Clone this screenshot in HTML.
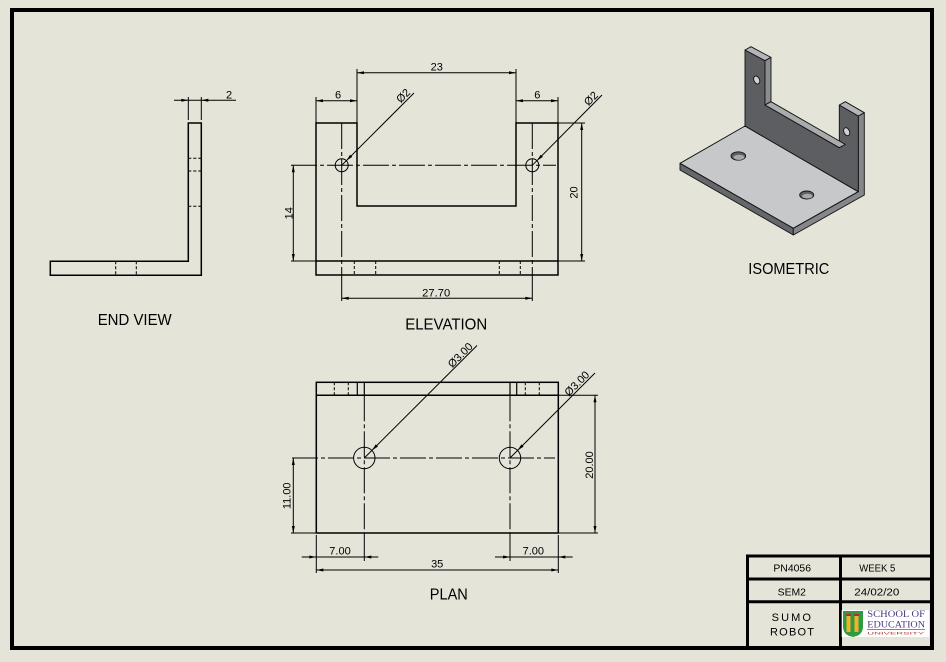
<!DOCTYPE html>
<html>
<head>
<meta charset="utf-8">
<style>
  html,body{margin:0;padding:0;background:#e4e4d9;}
  svg{display:block;}
  text{font-family:"Liberation Sans",sans-serif;fill:#000;}
</style>
</head>
<body>
<svg width="946" height="662" viewBox="0 0 946 662" xmlns="http://www.w3.org/2000/svg">
  <rect x="0" y="0" width="946" height="662" fill="#e4e4d9"/>
  <!-- Sheet border -->
  <rect x="12" y="10" width="920" height="638" fill="none" stroke="#000" stroke-width="4"/>

  <!-- ================= END VIEW ================= -->
  <g fill="none" stroke="#000">
    <path d="M50.3,261.3 H188.3 V123 H201.3 V275.3 H50.3 Z" stroke-width="1.5"/>
    <g stroke-width="1" stroke-dasharray="3 2">
      <line x1="188.3" y1="158.3" x2="201.3" y2="158.3"/>
      <line x1="188.3" y1="171" x2="201.3" y2="171"/>
      <line x1="188.3" y1="206.3" x2="201.3" y2="206.3"/>
      <line x1="115.7" y1="261.3" x2="115.7" y2="275.3"/>
      <line x1="136.3" y1="261.3" x2="136.3" y2="275.3"/>
    </g>
    <g stroke-width="1">
      <line x1="188.3" y1="97" x2="188.3" y2="120"/>
      <line x1="201.3" y1="97" x2="201.3" y2="120"/>
      <line x1="174" y1="100.3" x2="236" y2="100.3"/>
    </g>
  </g>
  <polygon points="188.3,100.3 181.3,98.8 181.3,101.8" fill="#000"/>
  <polygon points="201.3,100.3 208.3,98.8 208.3,101.8" fill="#000"/>
  <text x="229" y="98.5" font-size="11" text-anchor="middle">2</text>
  <text x="134.7" y="325" font-size="16" text-anchor="middle" textLength="74" lengthAdjust="spacingAndGlyphs">END VIEW</text>

  <!-- ================= ELEVATION ================= -->
  <g fill="none" stroke="#000">
    <path d="M316,123 H357 V206 H516 V123 H558 V275 H316 Z" stroke-width="1.5"/>
    <line x1="316" y1="261" x2="558" y2="261" stroke-width="1.5"/>
    <g stroke-width="1" stroke-dasharray="3 2">
      <line x1="354.3" y1="261" x2="354.3" y2="275"/>
      <line x1="375.7" y1="261" x2="375.7" y2="275"/>
      <line x1="499.3" y1="261" x2="499.3" y2="275"/>
      <line x1="520.3" y1="261" x2="520.3" y2="275"/>
    </g>
    <!-- centerlines -->
    <g stroke-width="1" stroke-dasharray="26 3 4 3">
      <line x1="341.7" y1="123" x2="341.7" y2="275"/>
      <line x1="532.3" y1="123" x2="532.3" y2="275"/>
      <line x1="291" y1="165.3" x2="556" y2="165.3"/>
    </g>
    <circle cx="341.7" cy="165.3" r="6.5" stroke-width="1"/>
    <circle cx="532.3" cy="165.3" r="6.5" stroke-width="1"/>
    <!-- dimension lines -->
    <g stroke-width="1">
      <!-- 23 -->
      <line x1="357" y1="69" x2="357" y2="123"/>
      <line x1="516" y1="69" x2="516" y2="123"/>
      <line x1="357" y1="72.7" x2="516" y2="72.7"/>
      <!-- 6 left / right -->
      <line x1="316" y1="97" x2="316" y2="123"/>
      <line x1="558" y1="97" x2="558" y2="123"/>
      <line x1="316" y1="100.7" x2="357" y2="100.7"/>
      <line x1="516" y1="100.7" x2="558" y2="100.7"/>
      <!-- 14 -->
      <line x1="291" y1="261" x2="316" y2="261"/>
      <line x1="293.3" y1="165.3" x2="293.3" y2="261"/>
      <!-- 20 -->
      <line x1="558" y1="123" x2="585" y2="123"/>
      <line x1="558" y1="261" x2="585" y2="261"/>
      <line x1="581.7" y1="123" x2="581.7" y2="261"/>
      <!-- 27.70 -->
      <line x1="341.7" y1="275" x2="341.7" y2="301"/>
      <line x1="532.3" y1="275" x2="532.3" y2="301"/>
      <line x1="341.7" y1="298.3" x2="532.3" y2="298.3"/>
      <!-- leaders -->
      <line x1="341.7" y1="165.3" x2="414" y2="93"/>
      <line x1="532.3" y1="165.3" x2="602" y2="95"/>
    </g>
  </g>
  <g fill="#000">
    <polygon points="357,72.7 364,71.2 364,74.2"/>
    <polygon points="516,72.7 509,71.2 509,74.2"/>
    <polygon points="316,100.7 323,99.2 323,102.2"/>
    <polygon points="357,100.7 350,99.2 350,102.2"/>
    <polygon points="516,100.7 523,99.2 523,102.2"/>
    <polygon points="558,100.7 551,99.2 551,102.2"/>
    <polygon points="293.3,165.3 291.8,172.3 294.8,172.3"/>
    <polygon points="293.3,261 291.8,254 294.8,254"/>
    <polygon points="581.7,123 580.2,130 583.2,130"/>
    <polygon points="581.7,261 580.2,254 583.2,254"/>
    <polygon points="341.7,298.3 348.7,296.8 348.7,299.8"/>
    <polygon points="532.3,298.3 525.3,296.8 525.3,299.8"/>
    <polygon points="346.3,160.7 352.3,156.9 350.1,154.7"/>
    <polygon points="536.9,160.7 542.9,156.9 540.7,154.7"/>
  </g>
  <g font-size="11">
    <text x="436.8" y="70.7" text-anchor="middle">23</text>
    <text x="338" y="98.3" text-anchor="middle">6</text>
    <text x="537.3" y="98.3" text-anchor="middle">6</text>
    <text x="436.2" y="296.7" text-anchor="middle" textLength="28" lengthAdjust="spacingAndGlyphs">27.70</text>
    <text transform="translate(288.3,213.3) rotate(-90)" text-anchor="middle" y="4">14</text>
    <text transform="translate(573.5,192.5) rotate(-90)" text-anchor="middle" y="4">20</text>
    <text transform="translate(403,95.5) rotate(-45)" text-anchor="middle" y="4">Ø2</text>
    <text transform="translate(590.8,98.3) rotate(-45)" text-anchor="middle" y="4">Ø2</text>
  </g>
  <text x="446.2" y="329.3" font-size="16" text-anchor="middle" textLength="82" lengthAdjust="spacingAndGlyphs">ELEVATION</text>

  <!-- ================= PLAN ================= -->
  <g fill="none" stroke="#000">
    <rect x="316.3" y="382.3" width="242" height="150.7" stroke-width="1.5"/>
    <line x1="316.3" y1="395.3" x2="558.3" y2="395.3" stroke-width="1.5"/>
    <g stroke-width="1.2">
      <line x1="357.3" y1="382.3" x2="357.3" y2="395.3"/>
      <line x1="516.7" y1="382.3" x2="516.7" y2="395.3"/>
      <line x1="364.3" y1="382.3" x2="364.3" y2="395.3"/>
      <line x1="510" y1="382.3" x2="510" y2="395.3"/>
    </g>
    <g stroke-width="1" stroke-dasharray="3 2">
      <line x1="334.3" y1="382.3" x2="334.3" y2="395.3"/>
      <line x1="348.3" y1="382.3" x2="348.3" y2="395.3"/>
      <line x1="525.3" y1="382.3" x2="525.3" y2="395.3"/>
      <line x1="539.3" y1="382.3" x2="539.3" y2="395.3"/>
    </g>
    <g stroke-width="1" stroke-dasharray="26 3 4 3">
      <line x1="364.3" y1="395.3" x2="364.3" y2="533"/>
      <line x1="510" y1="395.3" x2="510" y2="533"/>
      <line x1="292" y1="458" x2="555" y2="458"/>
    </g>
    <circle cx="364.3" cy="458" r="10.7" stroke-width="1"/>
    <circle cx="510" cy="458" r="10.7" stroke-width="1"/>
    <g stroke-width="1">
      <!-- extension lines -->
      <line x1="364.3" y1="533" x2="364.3" y2="561"/>
      <line x1="510" y1="533" x2="510" y2="561"/>
      <line x1="316.3" y1="535" x2="316.3" y2="573"/>
      <line x1="558.3" y1="535" x2="558.3" y2="573"/>
      <line x1="558.3" y1="395.3" x2="598" y2="395.3"/>
      <line x1="558.3" y1="533" x2="598" y2="533"/>
      <line x1="291" y1="533" x2="316.3" y2="533"/>
      <!-- dim lines -->
      <line x1="595" y1="395.3" x2="595" y2="533"/>
      <line x1="293.3" y1="458" x2="293.3" y2="533"/>
      <line x1="301.7" y1="557" x2="378.3" y2="557"/>
      <line x1="495" y1="557" x2="572.7" y2="557"/>
      <line x1="316.3" y1="570" x2="558.3" y2="570"/>
      <!-- leaders -->
      <line x1="364.3" y1="458" x2="477" y2="345.5"/>
      <line x1="510" y1="458" x2="595" y2="373"/>
    </g>
  </g>
  <g fill="#000">
    <polygon points="371.9,450.4 377.9,446.6 375.7,444.4"/>
    <polygon points="517.6,450.4 523.6,446.6 521.4,444.4"/>
    <polygon points="595,395.3 593.5,402.3 596.5,402.3"/>
    <polygon points="595,533 593.5,526 596.5,526"/>
    <polygon points="293.3,458 291.8,465 294.8,465"/>
    <polygon points="293.3,533 291.8,526 294.8,526"/>
    <polygon points="316.3,557 309.3,555.5 309.3,558.5"/>
    <polygon points="364.3,557 371.3,555.5 371.3,558.5"/>
    <polygon points="510,557 503,555.5 503,558.5"/>
    <polygon points="558.3,557 565.3,555.5 565.3,558.5"/>
    <polygon points="316.3,570 323.3,568.5 323.3,571.5"/>
    <polygon points="558.3,570 551.3,568.5 551.3,571.5"/>
  </g>
  <g font-size="11">
    <text x="340" y="554.5" text-anchor="middle">7.00</text>
    <text x="533.3" y="554.5" text-anchor="middle">7.00</text>
    <text x="437.2" y="567.7" text-anchor="middle">35</text>
    <text transform="translate(589.2,465) rotate(-90)" text-anchor="middle" y="4">20.00</text>
    <text transform="translate(286.7,495.8) rotate(-90)" text-anchor="middle" y="4">11.00</text>
    <text transform="translate(460,355) rotate(-45)" text-anchor="middle" y="4">Ø3.00</text>
    <text transform="translate(576.7,383.3) rotate(-45)" text-anchor="middle" y="4">Ø3.00</text>
  </g>
  <text x="448.8" y="599.3" font-size="16" text-anchor="middle" textLength="38" lengthAdjust="spacingAndGlyphs">PLAN</text>

  <!-- ================= ISOMETRIC ================= -->
  <g stroke="#111" stroke-width="0.9" stroke-linejoin="round">
    <!-- base top -->
    <polygon points="745,126 680,163.3 793.3,228.3 858.3,191.7" fill="#c6c8c9"/>
    <!-- base front-left thickness -->
    <polygon points="680,163.3 793.3,228.3 793.3,235 680,170" fill="#65676a"/>
    <!-- right side face -->
    <polygon points="858.3,116 864.3,112.7 864.3,195 793.3,235 793.3,228.3 858.3,191.7" fill="#85878a"/>
    <!-- vertical plate front -->
    <polygon points="745,126 745,50 765,60.7 765,105 839.3,147.7 839.3,105 858.3,116 858.3,191.7" fill="#5c5e61"/>
    <!-- left tab top -->
    <polygon points="745,50 751,46.7 771,57.4 765,60.7" fill="#b3b5b7"/>
    <!-- left tab inner side -->
    <polygon points="765,60.7 771,57.4 771,101.7 765,105" fill="#8a8c8e"/>
    <!-- notch bottom -->
    <polygon points="765,105 771,101.7 845.3,144.4 839.3,147.7" fill="#a9abad"/>
    <!-- right tab top -->
    <polygon points="839.3,105 845.3,101.7 864.3,112.7 858.3,116" fill="#b3b5b7"/>
    <!-- holes base -->
    <ellipse cx="738.3" cy="156" rx="7.3" ry="4.2" fill="#5d5f62"/>
    <ellipse cx="806.7" cy="195" rx="7" ry="4" fill="#5d5f62"/>
    <!-- holes in plate -->
    <ellipse cx="756.7" cy="80" rx="2.8" ry="4.2" transform="rotate(-25 756.7 80)" fill="#cfd0d1"/>
    <ellipse cx="846.7" cy="131.7" rx="2.8" ry="4.2" transform="rotate(-25 846.7 131.7)" fill="#cfd0d1"/>
  </g>
  <ellipse cx="739" cy="157.3" rx="5.5" ry="2.6" fill="#a6a8aa"/>
  <ellipse cx="807.4" cy="196.2" rx="5.2" ry="2.4" fill="#a6a8aa"/>
  <text x="788.8" y="274" font-size="16" text-anchor="middle" textLength="81" lengthAdjust="spacingAndGlyphs">ISOMETRIC</text>

  <!-- ================= TITLE BLOCK ================= -->
  <g stroke="#000" stroke-width="3">
    <line x1="747.5" y1="555" x2="747.5" y2="648"/>
    <line x1="746" y1="556" x2="932" y2="556"/>
    <line x1="747" y1="579" x2="932" y2="579"/>
    <line x1="747" y1="601.7" x2="932" y2="601.7"/>
    <line x1="840.5" y1="556" x2="840.5" y2="648"/>
  </g>
  <g font-size="10" text-anchor="middle">
    <text x="792.2" y="571.7" textLength="37.7" lengthAdjust="spacingAndGlyphs">PN4056</text>
    <text x="877.3" y="571.7" textLength="36" lengthAdjust="spacingAndGlyphs">WEEK 5</text>
    <text x="791.8" y="595.5" textLength="28.3" lengthAdjust="spacingAndGlyphs">SEM2</text>
    <text x="876.8" y="595.5" textLength="45" lengthAdjust="spacingAndGlyphs">24/02/20</text>
  </g>
  <g font-size="11" text-anchor="middle">
    <text x="791.3" y="621" textLength="39.3" lengthAdjust="spacing">SUMO</text>
    <text x="792" y="635.7" textLength="44" lengthAdjust="spacing">ROBOT</text>
  </g>
  <!-- logo -->
  <rect x="841.7" y="610" width="87.3" height="27" fill="#ffffff"/>
  <path d="M843,611 H863 V626 Q863,635.5 853,637 Q843,635.5 843,626 Z" fill="#2f9a3e"/>
  <rect x="846.5" y="616" width="4" height="16" fill="#f0b12d"/>
  <rect x="854.5" y="616" width="4" height="16" fill="#f0b12d"/>
  <rect x="846" y="614" width="5" height="2" fill="#b0303a"/>
  <rect x="854" y="614" width="5" height="2" fill="#b0303a"/>
  <g font-family="Liberation Serif, serif" fill="#4b3a80" font-size="9">
    <text x="867.3" y="617" textLength="57.7" lengthAdjust="spacingAndGlyphs" style="font-family:'Liberation Serif',serif;fill:#4b3a80">SCHOOL OF</text>
    <text x="867.3" y="627.5" textLength="57.7" lengthAdjust="spacingAndGlyphs" style="font-family:'Liberation Serif',serif;fill:#4b3a80">EDUCATION</text>
  </g>
  <line x1="867" y1="629.5" x2="925" y2="629.5" stroke="#b03a3a" stroke-width="0.8"/>
  <text x="867.3" y="634.6" font-size="3.5" textLength="57" lengthAdjust="spacingAndGlyphs" style="fill:#b03a3a">UNIVERSITY</text>
</svg>
</body>
</html>
